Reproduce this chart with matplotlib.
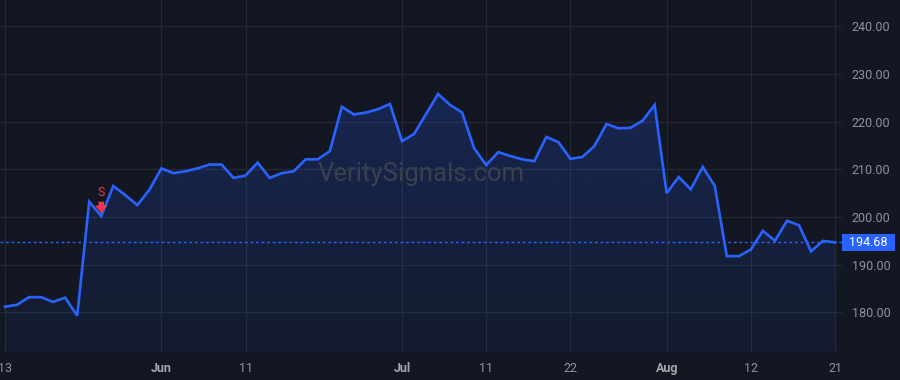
import numpy as np
import matplotlib
matplotlib.use("Agg")
import matplotlib.pyplot as plt
from matplotlib.patches import Rectangle
import matplotlib.transforms as mtransforms

plt.rcParams['font.family'] = ['Roboto', 'DejaVu Sans']

# closing prices, one per session
prices = [181.2, 181.6, 183.2, 183.2, 182.2, 183.1, 179.3, 203.2, 200.2, 206.5,
          204.6, 202.5, 205.7, 210.2, 209.2, 209.6, 210.2, 211.0, 211.0, 208.2,
          208.7, 211.4, 208.2, 209.2, 209.6, 212.1, 212.1, 213.8, 223.1, 221.5,
          221.9, 222.6, 223.7, 215.9, 217.4, 221.6, 225.8, 223.5, 221.9, 214.4,
          210.9, 213.6, 212.8, 212.1, 211.7, 216.8, 215.7, 212.2, 212.6, 214.9,
          219.5, 218.6, 218.7, 220.2, 223.5, 205.0, 208.4, 205.8, 210.5, 206.5,
          191.8, 191.8, 193.2, 197.1, 195.0, 199.2, 198.3, 192.8, 195.0, 194.68]

# x tick positions (session index) and labels
tick_idx = [0, 13, 20, 33, 40, 47, 55, 62, 69]
tick_labels = ['13', 'Jun', '11', 'Jul', '11', '22', 'Aug', '12', '21']
month_labels = ['Jun', 'Jul', 'Aug']

y_ticks = [180, 190, 200, 210, 220, 230, 240]

# sell signal
signal_idx = 8
signal_label = 'S'

watermark = 'VeritySignals.com'

bg = '#131722'
grid_c = '#262a35'
blue = '#2962ff'
txt_c = '#8f939e'
red = '#f23645'

x = np.arange(len(prices))
y = np.array(prices)
last = prices[-1]

fig = plt.figure(figsize=(9, 3.8), dpi=100, facecolor=bg)
ax = fig.add_axes([0, 28/380, 842/900, 352/380], facecolor=bg)

xmin, xmax = -5/12.03, 837/12.03
ymin, ymax = 171.7, 245.5
ax.set_xlim(xmin, xmax)
ax.set_ylim(ymin, ymax)

# gradient area under the line
poly = ax.fill_between(x, y, ymin, color='none', lw=0)
grad = np.zeros((256, 1, 4))
grad[:, 0, 0] = 41/255
grad[:, 0, 1] = 98/255
grad[:, 0, 2] = 1.0
grad[:, 0, 3] = np.linspace(0.22, 0.05, 256)
img = ax.imshow(grad, aspect='auto', extent=[x[0], x[-1], ymin, max(prices)],
                origin='upper', zorder=1)
img.set_clip_path(poly.get_paths()[0], transform=ax.transData)

ax.plot(x, y, color=blue, lw=1.9, zorder=3, solid_joinstyle='miter')

ax.axhline(last, color=blue, lw=1.0, ls=(0, (2, 2)), zorder=2)

# grid
for t in y_ticks:
    ax.axhline(t, color=grid_c, lw=0.8, zorder=0)
for t in tick_idx:
    ax.axvline(t, color=grid_c, lw=0.8, zorder=0)

for s in ax.spines.values():
    s.set_visible(False)

ax.yaxis.tick_right()
ax.set_yticks(y_ticks)
ax.set_yticklabels(['%.2f' % v for v in y_ticks], color=txt_c, fontsize=9)
ax.tick_params(axis='y', length=0, pad=7)
ax.set_xticks(tick_idx)
ax.set_xticklabels(tick_labels, color=txt_c, fontsize=9)
ax.tick_params(axis='x', length=0, pad=7)
for lab in ax.get_xticklabels():
    if lab.get_text() in month_labels:
        lab.set_fontweight('bold')
        lab.set_color('#a5a8b1')

# last price tag
trans = mtransforms.blended_transform_factory(ax.transAxes, ax.transData)
h = 8.5 / 4.77
tag = Rectangle((1.0, last - h), 53/842, 2*h, transform=trans, facecolor=blue,
                edgecolor='none', clip_on=False, zorder=5)
ax.add_patch(tag)
ax.text(1.0 + 26.5/842, last, '%.2f' % last, transform=trans, color='white',
        fontsize=9, ha='center', va='center', zorder=6)

# watermark
ax.text(0.5, 0.505, watermark, transform=ax.transAxes, ha='center', va='center',
        fontsize=18.5, color='#3b404d', zorder=2)

# sell signal marker
sv = prices[signal_idx]
ax.annotate('', xy=(signal_idx, sv + 0.6), xytext=(signal_idx, sv + 3.0),
            arrowprops=dict(arrowstyle='simple,head_width=0.9,head_length=0.55,tail_width=0.4',
                            color=red, lw=0, shrinkA=0, shrinkB=0), zorder=6)
ax.text(signal_idx, sv + 4.9, signal_label, color=red, fontsize=9,
        ha='center', va='center', zorder=6)

fig.savefig('out.png', dpi=100, facecolor=bg)
